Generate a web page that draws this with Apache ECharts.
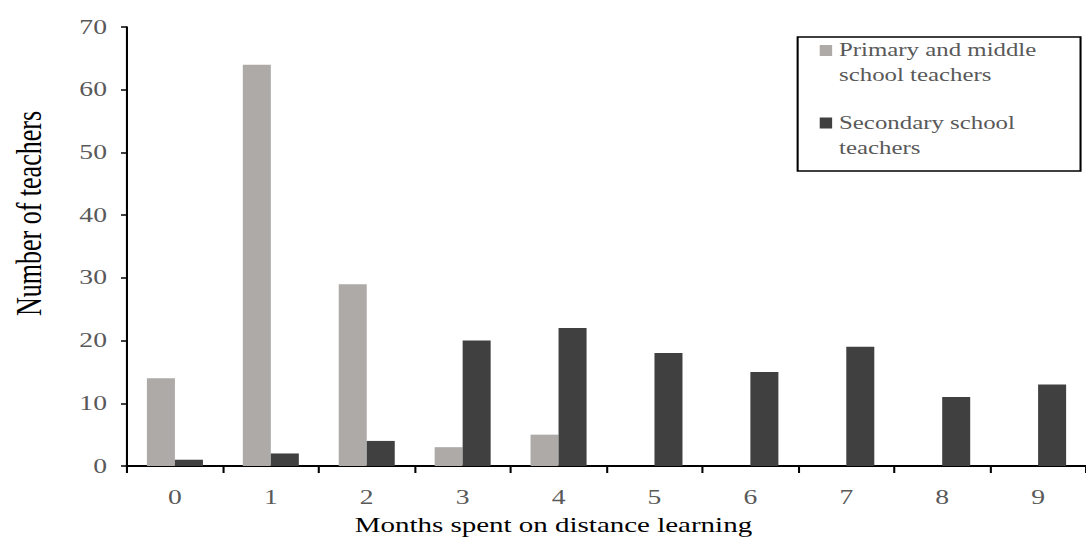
<!DOCTYPE html>
<html>
<head>
<meta charset="utf-8">
<script src="https://cdn.jsdelivr.net/npm/echarts@6/dist/echarts.min.js"></script>
<style>
html,body{margin:0;padding:0;background:#fff;overflow:hidden;}
#main{width:787px;height:547px;transform:scaleX(1.38);transform-origin:0 0;}
</style>
</head>
<body>
<div id="main"></div>
<script>
const categories = ['0','1','2','3','4','5','6','7','8','9'];
const primaryMiddle = [14, 64, 29, 3, 5, 0, 0, 0, 0, 0];
const secondary = [1, 2, 4, 20, 22, 18, 15, 19, 11, 13];
const seriesNames = ['Primary and middle\nschool teachers', 'Secondary school\nteachers'];
const yTicks = {min: 0, max: 70, interval: 10};

const FONT = '"Liberation Serif", "Times New Roman", serif';
const chart = echarts.init(document.getElementById('main'), null, {renderer: 'svg'});
const iconPath = 'path://M0,7L9,7L9,18L0,18Z M0,0L0.01,0 M0,50L0.01,50';

chart.setOption({
  animation: false,
  backgroundColor: '#fff',
  grid: {left: 88.5, top: 27, width: 702, height: 439, containLabel: false},
  legend: {
    orient: 'vertical',
    left: 594, top: 38,
    padding: 0,
    itemGap: 22.5,
    itemWidth: 9, itemHeight: 50,
    selectedMode: false,
    textStyle: {fontFamily: FONT, fontSize: 18, color: '#595959', lineHeight: 25},
    data: [
      {name: seriesNames[0], icon: iconPath},
      {name: seriesNames[1], icon: iconPath}
    ]
  },
  graphic: [{
    type: 'rect', left: 575.5, top: 34.5, silent: true,
    shape: {width: 205, height: 134},
    style: {fill: 'none', stroke: '#000', lineWidth: 1.5}
  }],
  xAxis: {
    type: 'category',
    data: categories,
    name: 'Months spent on distance learning',
    nameLocation: 'middle',
    nameGap: 48.5,
    nameTextStyle: {fontFamily: FONT, fontSize: 21, color: '#000', padding: [0, 77, 0, 0]},
    axisLine: {lineStyle: {color: '#000', width: 2}},
    axisTick: {show: true, length: 7, lineStyle: {color: '#000', width: 1.5}},
    axisLabel: {fontFamily: FONT, fontSize: 20, color: '#595959', margin: 21.5},
    splitLine: {show: false}
  },
  yAxis: {
    type: 'value',
    min: yTicks.min, max: yTicks.max, interval: yTicks.interval,
    name: 'Number of teachers',
    nameLocation: 'middle',
    nameGap: 58,
    nameTextStyle: {fontFamily: FONT, fontSize: 26, color: '#000', padding: [0, 0, 0, 66]},
    axisLine: {show: true, lineStyle: {color: '#000', width: 1.5}},
    axisTick: {show: true, length: 4.3, lineStyle: {color: '#000', width: 1.5}},
    axisLabel: {fontFamily: FONT, fontSize: 20, color: '#595959', margin: 14.5},
    splitLine: {show: false}
  },
  series: [
    {name: seriesNames[0], type: 'bar', data: primaryMiddle, barWidth: 20.3, barGap: '0%',
     itemStyle: {color: '#adaaa8'}},
    {name: seriesNames[1], type: 'bar', data: secondary, barWidth: 20.3, barGap: '0%',
     itemStyle: {color: '#404040'}}
  ]
});
</script>
</body>
</html>
